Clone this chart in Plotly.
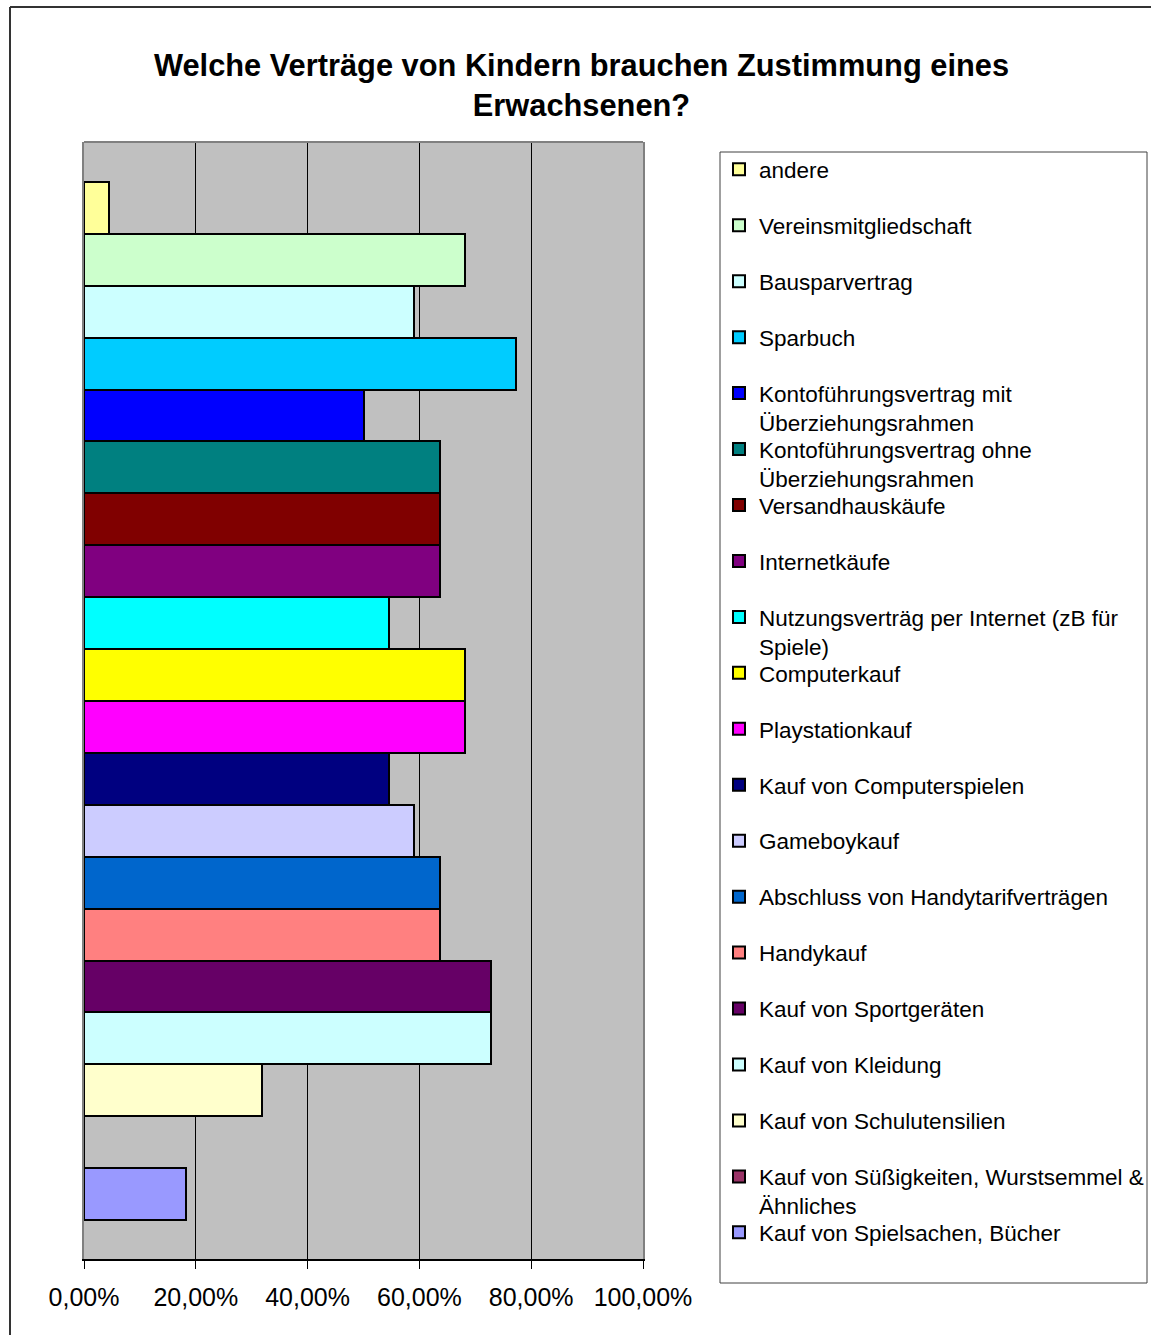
import plotly.graph_objects as go

# ---------------- data ----------------
categories = [
    "andere",
    "Vereinsmitgliedschaft",
    "Bausparvertrag",
    "Sparbuch",
    "Kontoführungsvertrag mit Überziehungsrahmen",
    "Kontoführungsvertrag ohne Überziehungsrahmen",
    "Versandhauskäufe",
    "Internetkäufe",
    "Nutzungsverträg per Internet (zB für Spiele)",
    "Computerkauf",
    "Playstationkauf",
    "Kauf von Computerspielen",
    "Gameboykauf",
    "Abschluss von Handytarifverträgen",
    "Handykauf",
    "Kauf von Sportgeräten",
    "Kauf von Kleidung",
    "Kauf von Schulutensilien",
    "Kauf von Süßigkeiten, Wurstsemmel & Ähnliches",
    "Kauf von Spielsachen, Bücher",
]
legend_labels = [
    "andere",
    "Vereinsmitgliedschaft",
    "Bausparvertrag",
    "Sparbuch",
    "Kontoführungsvertrag mit<br>Überziehungsrahmen",
    "Kontoführungsvertrag ohne<br>Überziehungsrahmen",
    "Versandhauskäufe",
    "Internetkäufe",
    "Nutzungsverträg per Internet (zB für<br>Spiele)",
    "Computerkauf",
    "Playstationkauf",
    "Kauf von Computerspielen",
    "Gameboykauf",
    "Abschluss von Handytarifverträgen",
    "Handykauf",
    "Kauf von Sportgeräten",
    "Kauf von Kleidung",
    "Kauf von Schulutensilien",
    "Kauf von Süßigkeiten, Wurstsemmel &<br>Ähnliches",
    "Kauf von Spielsachen, Bücher",
]
values = [0.0455, 0.6818, 0.5909, 0.7727, 0.5000, 0.6364, 0.6364, 0.6364, 0.5455, 0.6818,
          0.6818, 0.5455, 0.5909, 0.6364, 0.6364, 0.7273, 0.7273, 0.3182, 0.0, 0.1818]
colors = ["#FFFF99", "#CCFFCC", "#CCFFFF", "#00CCFF", "#0000FF", "#008080", "#800000", "#800080",
          "#00FFFF", "#FFFF00", "#FF00FF", "#000080", "#CCCCFF", "#0066CC", "#FF8080", "#660066",
          "#CCFFFF", "#FFFFCC", "#993366", "#9999FF"]
x_ticks = [0, 0.2, 0.4, 0.6, 0.8, 1.0]
title_text = "<b>Welche Verträge von Kindern brauchen Zustimmung eines<br>Erwachsenen?</b>"

# legend blocks (so that wrapped entries keep a uniform row pitch)
legend_blocks = ["legend"] * 5 + ["legend2"] + ["legend3"] * 3 + ["legend4"] * 10 + ["legend5"]

# ---------------- layout geometry (pixels) ----------------
W, H = 1151, 1335
PL, PR, PT, PB = 84, 643, 142, 1259            # plot area
FONT = "Liberation Sans, Arial, sans-serif"
LEG_FS = 22.5
LINE_H = 1.3 * LEG_FS
ROW0, PITCH = 169.3, 55.95                     # legend row centres
LEG_X = 719


def px_x(p):
    return (p - PL) / (PR - PL)


def px_y(p):
    return (PB - p) / (PB - PT)


fig = go.Figure()
for cat, lab, val, col, lg in zip(categories, legend_labels, values, colors, legend_blocks):
    fig.add_trace(go.Bar(
        y=[cat], x=[val], orientation="h", name=lab,
        marker=dict(color=col, line=dict(color="black", width=2)),
        legend=lg, legendgroup=cat,
        hovertemplate=cat + ": %{x:.2%}<extra></extra>",
    ))

legend_layouts = {}
for lg in ["legend", "legend2", "legend3", "legend4", "legend5"]:
    first_row = legend_blocks.index(lg)
    top_px = ROW0 + PITCH * first_row - LINE_H / 2 - 6.5
    legend_layouts[lg] = dict(
        x=px_x(LEG_X), xanchor="left", y=px_y(top_px), yanchor="top",
        bgcolor="rgba(0,0,0,0)", borderwidth=0,
        font=dict(family=FONT, size=LEG_FS, color="black"),
        traceorder="grouped", tracegroupgap=PITCH - (LINE_H + 3),
        valign="top",
    )

fig.update_layout(
    width=W, height=H,
    margin=dict(l=PL, r=W - PR, t=PT, b=H - PB, autoexpand=False),
    paper_bgcolor="white", plot_bgcolor="#C0C0C0",
    barmode="overlay", bargap=0,
    separators=",.",
    font=dict(family=FONT, color="black"),
    title=dict(text=title_text, x=581.5 / W, xanchor="center", xref="container",
               y=1 - 76 / H, yanchor="top", yref="container",
               font=dict(family=FONT, size=30.8, color="black")),
    xaxis=dict(range=[0, 1], tickvals=x_ticks, tickformat=".2%",
               showgrid=True, gridcolor="black", gridwidth=1, zeroline=False,
               showline=True, linecolor="black", linewidth=1.5,
               ticks="outside", ticklen=8, tickcolor="black", tickwidth=1,
               ticklabelstandoff=7,
               tickfont=dict(family=FONT, size=25, color="black")),
    yaxis=dict(type="category", categoryorder="array", categoryarray=categories,
               range=[20.25, -1.27], showticklabels=False, showgrid=False,
               zeroline=False, showline=True, linecolor="#808080", linewidth=2,
               mirror=True, ticks=""),
    showlegend=True,
    **legend_layouts,
)

# plot-area top border, legend frame and chart frame
fig.add_shape(type="line", xref="paper", yref="paper", x0=0, x1=1, y0=1, y1=1,
              line=dict(color="#808080", width=2))
fig.add_shape(type="rect", xref="paper", yref="paper",
              x0=px_x(720), x1=px_x(1147), y0=px_y(1283), y1=px_y(152),
              line=dict(color="#404040", width=1), fillcolor="rgba(0,0,0,0)")
fig.add_shape(type="line", xref="paper", yref="paper",
              x0=px_x(10), x1=px_x(1170), y0=px_y(7), y1=px_y(7),
              line=dict(color="#333333", width=2))
fig.add_shape(type="line", xref="paper", yref="paper",
              x0=px_x(10), x1=px_x(10), y0=px_y(7), y1=px_y(1350),
              line=dict(color="#333333", width=2))

# remove the browser's default page margin so the figure fills the window exactly
fig.write_html(
    "out.html",
    config={"displayModeBar": False},
    post_script="document.body.style.margin='0';document.body.style.overflow='hidden';",
)
